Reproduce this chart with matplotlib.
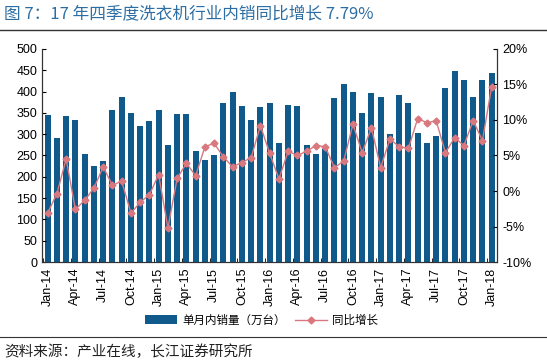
import matplotlib
matplotlib.use("Agg")
import matplotlib.pyplot as plt
from matplotlib.ticker import FuncFormatter
import numpy as np

plt.rcParams['font.family'] = ['Liberation Sans', 'Noto Sans CJK SC']

# data
months = ['Jan', 'Feb', 'Mar', 'Apr', 'May', 'Jun', 'Jul', 'Aug', 'Sep', 'Oct', 'Nov', 'Dec']
labels = [f"{months[i % 12]}-{14 + i // 12}" for i in range(49)]

sales = [345, 290, 342, 334, 254, 226, 236, 356, 387, 350, 320, 332,
         356, 275, 348, 348, 260, 239, 252, 374, 400, 366, 334, 363,
         374, 279, 368, 366, 275, 254, 266, 384, 418, 400, 350, 397,
         387, 301, 392, 374, 303, 280, 295, 408, 449, 426, 386, 426,
         444]
yoy = [-3.1, -0.35, 4.5, -2.6, -1.3, 0.4, 3.4, 0.8, 1.4, -3.1, -1.6, -0.5,
       2.3, -5.2, 1.8, 3.9, 2.15, 6.25, 6.7, 4.8, 3.4, 4.0, 4.7, 9.2,
       5.3, 1.7, 5.6, 5.0, 5.6, 6.4, 6.25, 3.3, 4.2, 9.4, 5.4, 8.9,
       3.3, 7.3, 6.25, 6.0, 10.2, 9.6, 9.9, 5.4, 7.5, 6.4, 9.9, 7.1,
       14.7]

bar_color = '#0f5a8b'
line_color = '#d9787e'

fig = plt.figure(figsize=(5.47, 3.62), dpi=100)
ax = fig.add_axes([0.077, 0.276, 0.832, 0.589])
ax2 = ax.twinx()

x = np.arange(len(sales))
b = ax.bar(x, sales, width=0.64, color=bar_color)
l, = ax2.plot(x, yoy, color=line_color, lw=1.0, marker='D', markersize=3.5)

ax.set_xlim(-0.6, len(sales) - 0.4)
ax.set_ylim(0, 500)
ax.set_yticks(np.arange(0, 501, 50))
ax2.set_ylim(-10, 20)
ax2.set_yticks(np.arange(-10, 21, 5))
ax2.yaxis.set_major_formatter(FuncFormatter(lambda v, p: f"{v:.0f}%"))

ax.set_xticks(x[::3])
ax.set_xticklabels(labels[::3], rotation=90)
ax.set_xticks(np.arange(-0.5, len(sales), 3), minor=True)
ax.tick_params(axis='x', which='major', length=0, labelsize=9, pad=4)
ax.tick_params(axis='x', which='minor', length=3, direction='in')
ax.tick_params(axis='y', labelsize=9, direction='in', length=3)
ax2.tick_params(axis='y', labelsize=9, direction='in', length=3)

for a in (ax, ax2):
    a.spines['top'].set_visible(False)
    for s in ('left', 'right', 'bottom'):
        a.spines[s].set_color('#333333')
        a.spines[s].set_linewidth(0.8)

fig.legend([b, l], ['单月内销量（万台）', '同比增长'], loc='center',
           bbox_to_anchor=(0.478, 0.115), ncol=2, frameon=False,
           handlelength=2.8, handleheight=0.8, handletextpad=0.4,
           columnspacing=0.8,
           prop={'family': ['Noto Sans CJK SC'], 'size': 8.3})

# title, rules and source
fig.text(0.008, 0.962, '图 7：17 年四季度洗衣机行业内销同比增长 7.79%',
         fontsize=12, color='#2c6ea3', va='center', ha='left',
         family=['Noto Sans CJK SC'])
fig.add_artist(plt.Line2D([0.0, 1.0], [0.918, 0.918], color='#333333', lw=1.0))
fig.add_artist(plt.Line2D([0.0, 1.0], [0.07, 0.07], color='#333333', lw=0.8))
fig.text(0.008, 0.028, '资料来源：产业在线，长江证券研究所', fontsize=10.5,
         color='#222222', va='center', ha='left', family=['Noto Sans CJK SC'])

fig.savefig('out.png', dpi=100)
